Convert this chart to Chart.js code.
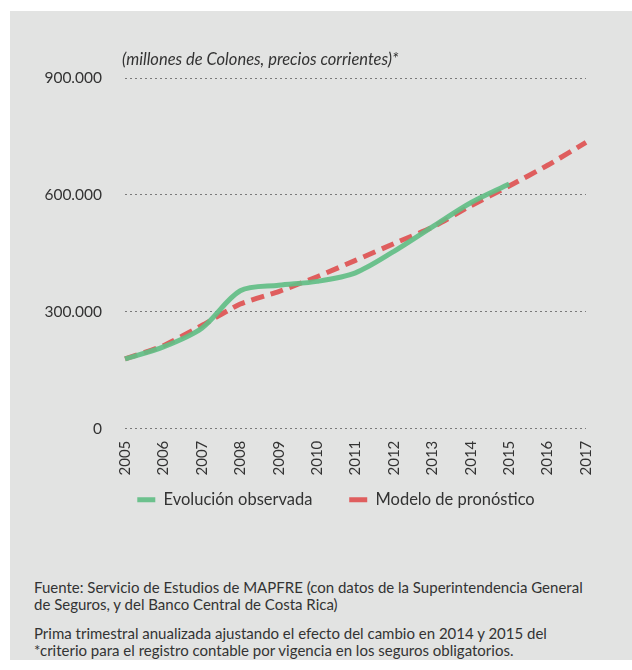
<!DOCTYPE html>
<html>
<head>
<meta charset="utf-8">
<script src="https://cdn.jsdelivr.net/npm/chart.js@4"></script>
<style>
  body { margin: 0; background: #fff; font-family: Lato, sans-serif; }
  #panel { position: absolute; left: 10px; top: 11px; width: 622px; height: 649px; background: #e2e3e2; }
  #box { position: absolute; left: 0; top: 0; width: 622px; height: 530px; }
  .note { position: absolute; left: 24px; width: 598px; font-size: 15px; line-height: 17px; color: #333; white-space: nowrap; }
</style>
</head>
<body>
<div id="panel">
  <div id="box"><canvas id="chart"></canvas></div>
  <div class="note" style="top:568px">Fuente: Servicio de Estudios de MAPFRE (con datos de la Superintendencia General<br>de Seguros, y del Banco Central de Costa Rica)</div>
  <div class="note" style="top:614px">Prima trimestral anualizada ajustando el efecto del cambio en 2014 y 2015 del<br>*criterio para el registro contable por vigencia en los seguros obligatorios.</div>
</div>
<script>
const years = ['2005','2006','2007','2008','2009','2010','2011','2012','2013','2014','2015','2016','2017'];
const observada = [179000, 210000, 258000, 354000, 368000, 378000, 400000, 455000, 518000, 580000, 628000, null, null];
const pronostico = [179000, 213000, 265000, 320000, 352000, 390000, 432000, 475000, 517000, 572000, 623000, 676000, 735000];
const yTicks = [0, 300000, 600000, 900000];

const unitLabel = {
  id: 'unitLabel',
  afterLayout(c) {
    // nudge the legend to the right, as in the original
    c.legend.left += 76;
  },
  afterDraw(c) {
    const ctx = c.ctx;
    ctx.save();
    ctx.font = 'italic 16.5px Lato';
    ctx.fillStyle = '#333';
    ctx.textBaseline = 'middle';
    ctx.fillText('(millones de Colones, precios corrientes)*', c.chartArea.left - 3, 49);
    ctx.restore();
  }
};

let chartCanv = document.getElementById('chart').getContext('2d');

let chart = new Chart(chartCanv, {
  type: 'line',
  plugins: [unitLabel],
  data: {
    labels: years,
    datasets: [
      {
        label: 'Evolución observada',
        data: observada,
        borderColor: 'rgba(98,190,134,0.92)',
        backgroundColor: 'rgba(98,190,134,0.92)',
        borderWidth: 5,
        tension: 0.3,
        pointRadius: 0,
        order: 1
      },
      {
        label: 'Modelo de pronóstico',
        data: pronostico,
        borderColor: '#df5e5e',
        backgroundColor: '#df5e5e',
        borderWidth: 5,
        borderDash: [13, 7],
        tension: 0.2,
        pointRadius: 0,
        order: 2
      }
    ]
  },
  options: {
    responsive: true,
    maintainAspectRatio: false,
    animation: false,
    layout: { padding: { top: 67, right: 46, bottom: 23, left: 0 } },
    plugins: {
      tooltip: { enabled: false },
      legend: {
        position: 'bottom',
        labels: {
          usePointStyle: true,
          pointStyle: 'line',
          pointStyleWidth: 18,
          boxHeight: 5,
          padding: 12,
          color: '#333',
          font: { family: 'Lato', size: 16.5 },
          generateLabels(c) {
            const items = Chart.defaults.plugins.legend.labels.generateLabels(c);
            items[0].text += '\u2003\u2003';
            return items;
          }
        }
      }
    },
    scales: {
      x: {
        grid: { display: false },
        border: { display: false },
        ticks: {
          color: '#333',
          font: { family: 'Lato', size: 15 },
          minRotation: 90,
          maxRotation: 90,
          padding: 4
        }
      },
      y: {
        min: 0,
        max: 900000,
        afterFit(s) { s.width = 115; },
        afterBuildTicks(s) { s.ticks = yTicks.map(v => ({ value: v })); },
        grid: { color: '#7a7a7a', lineWidth: 1, drawTicks: false },
        border: { display: false, dash: [2, 3] },
        ticks: {
          color: '#333',
          font: { family: 'Lato', size: 15.5 },
          padding: 23,
          callback: v => v === 0 ? '0' : v.toLocaleString('de-DE')
        }
      }
    }
  }
});
</script>
</body>
</html>
